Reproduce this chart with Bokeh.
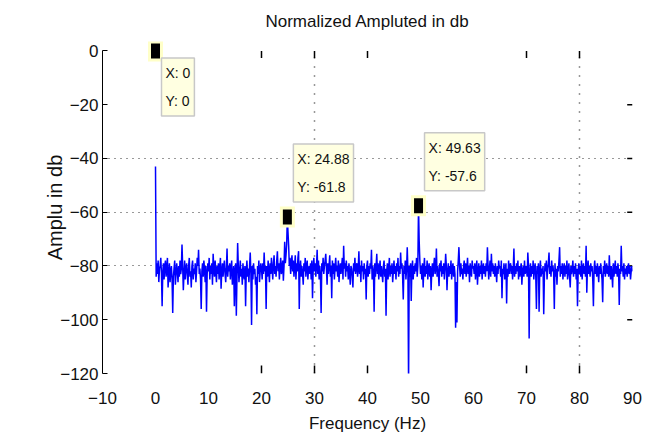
import numpy as np
from bokeh.plotting import figure
from bokeh.models import Label, FixedTicker
from bokeh.embed import file_html
from bokeh.resources import INLINE

FONT = "'Liberation Sans Narrow', 'Arial Narrow', 'Liberation Sans', sans-serif"

# Normalized spectrum magnitude (dB), one value per 0.125 Hz bin from 0 to 90 Hz
amp_db = [
    -43, -84, -79, -83, -78, -86, -81, -80,
    -77, -83, -95, -82, -79, -85, -80, -78,
    -84, -81, -77, -88, -83, -79, -86, -82,
    -80, -85, -97.5, -84, -81, -78, -87, -83,
    -79, -82, -86, -80, -84, -78, -83, -81,
    -72, -80, -89, -83, -78, -85, -81, -79,
    -83, -87, -80, -77, -84, -82, -88, -80,
    -78, -85, -81, -83, -79, -86, -82, -77,
    -80, -74, -83, -81, -85, -96, -82, -79,
    -84, -78, -81, -86, -80, -97, -83, -79,
    -82, -77, -85, -80, -83, -79, -87, -75.5,
    -81, -84, -78, -82, -86, -80, -83, -79,
    -85, -81, -77, -88.5, -82, -79, -84, -80,
    -78, -83, -86, -81, -73.5, -84, -80, -82,
    -79, -85, -81, -78, -87, -83, -80, -95,
    -82, -79, -98.5, -84, -71.5, -80, -86, -82,
    -78, -84, -81, -87, -79, -83, -85, -80,
    -95, -82, -78, -84, -81, -86, -80, -75,
    -83, -102, -80, -85, -79, -83, -81, -87,
    -84, -98, -80, -83, -78, -86, -82, -79,
    -81, -85, -79, -83, -75, -82, -80, -96,
    -80, -84, -78, -82, -86, -79, -83, -77,
    -81, -85, -79, -76, -83, -80, -84, -78,
    -74.5, -82, -79, -85, -80, -77, -83, -81,
    -78, -85.5, -80, -71, -79, -76, -72, -61.8,
    -67.5, -72.5, -80, -77, -83, -79, -76, -82,
    -78, -84, -80, -76, -85, -79, -82, -77,
    -74.5, -96, -81, -78, -84, -80, -83, -87,
    -79, -82, -77, -84, -80, -78, -85, -81,
    -80, -83, -79, -85, -78, -92, -81, -77,
    -82, -79, -84, -80, -74, -83, -78, -85,
    -80, -84, -97.5, -79, -82, -77, -83, -80,
    -78, -75.5, -81, -87, -79, -83, -80, -76,
    -84, -80, -92, -78, -83, -79, -85, -81,
    -77, -82, -80, -84, -78, -86, -81, -79,
    -83, -80, -77, -85, -72.5, -81, -79, -84,
    -78, -82, -80, -85, -79, -83, -87, -80,
    -81, -84, -88, -79, -82, -77, -83, -80,
    -79, -84, -81, -74.5, -83, -80, -86, -78,
    -82, -80, -85, -79, -83, -81, -92.5, -80,
    -78, -84, -80, -83, -79, -81, -74, -85,
    -80, -82, -97, -79, -84, -80, -75.5, -83,
    -79, -85, -81, -78, -84, -80, -83, -86,
    -80, -78, -84, -81, -98.5, -82, -79, -85,
    -81, -77, -84, -80, -83, -79, -86, -82,
    -78, -83, -80, -85, -79, -82, -77, -84,
    -80, -83, -75, -81, -79, -84, -92.5, -80,
    -83, -78, -85, -81, -73, -82, -124, -80,
    -84, -79, -93, -81, -78, -85, -80, -83,
    -79, -82, -77, -84, -80, -57.6, -70.5, -78,
    -83, -80, -85, -79, -88, -81, -77, -84,
    -80, -83, -78, -85, -81, -79, -84, -80,
    -89, -82, -79, -84, -80, -77, -83, -81,
    -73.5, -84, -80, -83, -87.5, -79, -82, -78,
    -84, -80, -83, -79, -85, -81, -75.5, -80,
    -89, -82, -79, -84, -80, -83, -78, -85,
    -81, -79, -84, -80, -83, -103, -86, -101,
    -82, -78, -73, -80, -84, -79, -83, -81,
    -85, -80, -78, -83, -79, -84, -81, -77,
    -83, -80, -86, -79, -82, -84, -78, -81,
    -80, -83, -79, -85, -81, -78, -87, -82,
    -79, -84, -80, -83, -78, -85, -81, -79,
    -83, -80, -84, -79, -82, -73, -80, -85,
    -81, -78, -84, -75.5, -82, -79, -83, -80,
    -84, -79, -82, -86, -80, -83, -78, -81,
    -80, -84, -78, -92, -81, -83, -79, -85,
    -82, -79, -94, -81, -84, -78, -83, -80,
    -79, -83, -80, -85, -81, -73.5, -84, -80,
    -83, -79, -82, -78, -85, -80, -84, -81,
    -79, -87, -82, -80, -84, -78, -83, -80,
    -81, -84, -75, -80, -107, -82, -79, -84,
    -80, -83, -78, -85, -81, -79, -84, -96,
    -80, -83, -79, -97, -82, -78, -84, -81,
    -83, -80, -98, -84, -79, -82, -78, -85,
    -81, -79, -75, -83, -80, -84, -78, -82,
    -80, -83, -96, -79, -84, -81, -87, -80,
    -82, -78, -73, -84, -80, -83, -79, -85,
    -81, -79, -84, -80, -83, -78, -85, -82,
    -79, -84, -88, -80, -83, -81, -78, -84,
    -80, -83, -79, -85, -81, -95, -82, -79,
    -83, -80, -84, -78, -85, -81, -79, -83,
    -80, -84, -72.5, -90, -81, -78, -83, -80,
    -84, -79, -82, -80, -85, -95, -81, -78,
    -83, -80, -84, -79, -82, -86, -80, -83,
    -79, -82, -85, -93.5, -80, -83, -78, -84,
    -81, -79, -83, -80, -84, -76, -82, -85,
    -80, -83, -88, -79, -84, -81, -78, -83,
    -80, -84, -79, -82, -94.5, -81, -83, -72.5,
    -82, -80, -84, -79, -85, -81, -83, -80,
    -84, -81, -79, -83, -80, -85, -82, -80,
    -82,
]
freq_step = 0.125
freq = [i * freq_step for i in range(len(amp_db))]

# Data tips
tip_x = [0, 24.88, 49.63]
tip_y = [0, -61.8, -57.6]

# Axis ticks and grid
x_ticks = [-10, 0, 10, 20, 30, 40, 50, 60, 70, 80, 90]
y_ticks = [-120, -100, -80, -60, -40, -20, 0]
x_grid = [30, 80]
y_grid = [-40, -60, -80]
edge_x_ticks = [20, 30, 40, 70, 80]
edge_y_ticks = [-20, -40, -60, -80, -100]
y_lo, y_hi = -120, 0

# a little headroom above 0 dB keeps the 0 dB tip marker whole
p = figure(width=650, height=439, x_range=(-10, 90), y_range=(y_lo, 3.5),
           output_backend="svg", toolbar_location=None,
           min_border_left=102, min_border_right=18,
           min_border_top=41, min_border_bottom=66,
           title="Normalized Ampluted in db")
p.outline_line_color = None
p.background_fill_color = "white"
p.border_fill_color = "white"

p.title.align = "center"
p.title.vertical_align = "top"
p.title.text_font = FONT
p.title.text_font_size = "17px"
p.title.text_font_style = "normal"
p.title.text_color = "#111111"
p.title.standoff = 18

# axes
p.xaxis.ticker = FixedTicker(ticks=x_ticks)
p.yaxis.ticker = FixedTicker(ticks=y_ticks)
for ax in (p.xaxis, p.yaxis):
    ax.major_label_text_font = FONT
    ax.major_label_text_font_size = "17px"
    ax.major_label_text_color = "#111111"
    ax.axis_label_text_font = FONT
    ax.axis_label_text_font_size = "17px"
    ax.axis_label_text_font_style = "normal"
    ax.axis_label_text_color = "#111111"
    ax.minor_tick_line_color = None

p.xaxis.axis_label = "Frequency (Hz)"
p.xaxis.axis_line_color = None
p.xaxis.major_tick_line_color = None
p.xaxis.major_label_standoff = 12
p.xaxis.axis_label_standoff = 7

p.yaxis.axis_label = "Amplu in db"
p.yaxis.axis_label_text_font_size = "20px"
p.yaxis.bounds = (y_lo, y_hi)
p.yaxis.axis_line_color = "black"
p.yaxis.major_tick_in = 5
p.yaxis.major_tick_out = 0
p.yaxis.major_tick_line_color = "black"
p.yaxis.major_label_standoff = 4
p.yaxis.axis_label_standoff = -9

# dotted grid: horizontal through the grid ticker, vertical as segments spanning -120..0
p.xgrid.grid_line_color = None
p.ygrid.ticker = FixedTicker(ticks=y_grid)
p.ygrid.grid_line_color = "#333333"
p.ygrid.grid_line_dash = "1 5"
p.ygrid.grid_line_width = 1
p.segment(x0=x_grid, y0=[y_lo] * len(x_grid), x1=x_grid, y1=[y_hi] * len(x_grid),
          line_color="#333333", line_dash="1 8", line_width=1.5)

# short inner tick marks on bottom, top and right edges
p.segment(x0=edge_x_ticks, y0=[y_lo] * len(edge_x_ticks),
          x1=edge_x_ticks, y1=[y_lo + 3] * len(edge_x_ticks),
          line_color="black", line_width=1.5)
p.segment(x0=edge_x_ticks, y0=[y_hi] * len(edge_x_ticks),
          x1=edge_x_ticks, y1=[y_hi - 2.6] * len(edge_x_ticks),
          line_color="black", line_width=1.5)
p.segment(x0=[90] * len(edge_y_ticks), y0=edge_y_ticks,
          x1=[89] * len(edge_y_ticks), y1=edge_y_ticks,
          line_color="black", line_width=1.5)

# spectrum
p.line(freq, amp_db, line_color="#0000ff", line_width=1.5)

# data tip markers: black block with a pale yellow halo
p.rect(tip_x, tip_y, width=15, height=21, width_units="screen", height_units="screen",
       fill_color="#ffffc8", line_color=None)
p.rect(tip_x, tip_y, width=9, height=15, width_units="screen", height_units="screen",
       fill_color="black", line_color=None)

# data tip boxes: (x offset, y offset) in pixels from the tip point to the box corner
tip_offsets = [(6, -7), (6, 73), (6, 73)]
for tx, ty, (dx, dy) in zip(tip_x, tip_y, tip_offsets):
    p.add_layout(Label(
        x=tx, y=ty, x_offset=dx, y_offset=dy,
        text=f"X: {tx:g}\nY: {ty:g}",
        text_font=FONT, text_font_size="14px", text_color="#111111",
        text_align="left", text_baseline="top", text_line_height=1.75,
        padding=dict(left=4, right=4, top=7, bottom=7),
        background_fill_color="#ffffe1", background_fill_alpha=1.0,
        border_line_color="#c8c8c8", border_line_width=1.5,
    ))

open("out.html", "w").write(file_html(p, INLINE))
